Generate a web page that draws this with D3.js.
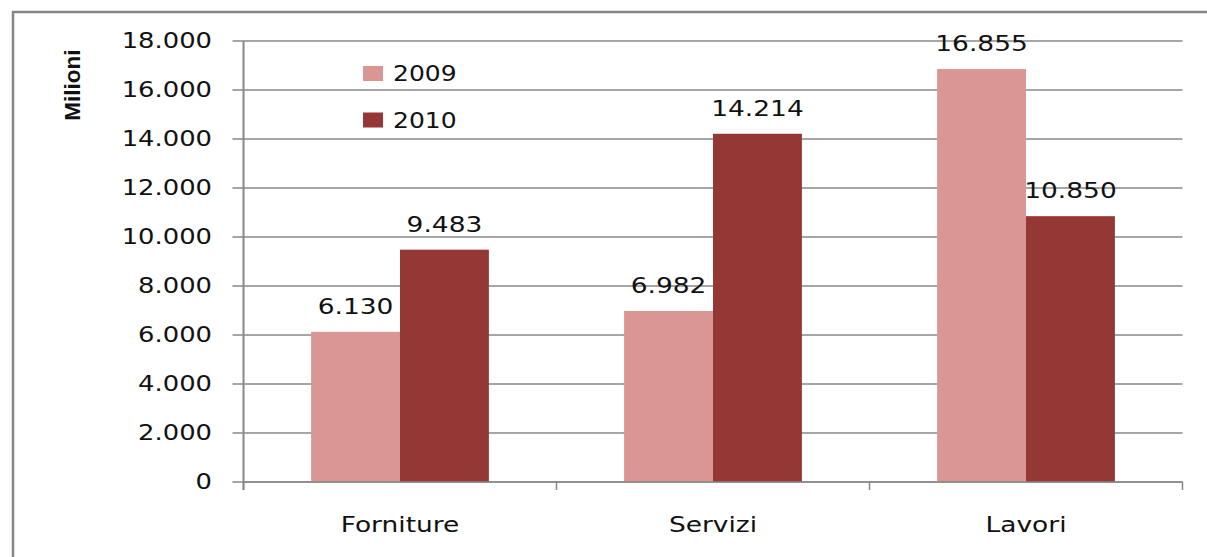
<!DOCTYPE html>
<html lang="it">
<head>
<meta charset="UTF-8">
<title>Milioni per categoria 2009-2010</title>
<script src="https://cdn.jsdelivr.net/npm/d3@7/dist/d3.min.js"></script>
<style>
  html, body { margin: 0; background: #fff; overflow: hidden; }
  svg { display: block; }
  svg text { font-family: "DejaVu Sans", Verdana, sans-serif; fill: #111; }
</style>
</head>
<body>
<script>
// data
var categories = ["Forniture", "Servizi", "Lavori"];
var years = ["2009", "2010"];
var values2009 = [6130, 6982, 16855];
var values2010 = [9483, 14214, 10850];
var yTicks = [0, 2000, 4000, 6000, 8000, 10000, 12000, 14000, 16000, 18000];
var colors = ["#D99694", "#953735"];

var W = 1207, H = 557;
var pLeft = 243.5, pRight = 1182.5, pTop = 41, pBottom = 482;
var sx = 1.26; // text is drawn wide in the original

var svg = d3.select("body").append("svg").attr("width", W).attr("height", H);

// outer frame: only top and left edges are inside the picture
svg.append("path").attr("d", "M13," + H + "V12H" + W)
  .attr("fill", "none").attr("stroke", "#868686").attr("stroke-width", 2.5);

var y = d3.scaleLinear().domain([0, 18000]).range([pBottom, pTop]);
var x0 = d3.scaleBand().domain(categories).range([pLeft, pRight]);
var gap = x0.bandwidth() * 0.216;
var x1 = d3.scaleBand().domain(years).range([gap, x0.bandwidth() - gap]);

var fmt = function(v) { return d3.format(",")(v).replace(/,/g, "."); };

// gridlines + y ticks
svg.append("g").selectAll("line").data(yTicks).enter().append("line")
  .attr("x1", pLeft - 11).attr("x2", pRight)
  .attr("y1", function(d) { return y(d); }).attr("y2", function(d) { return y(d); })
  .attr("stroke", "#888").attr("stroke-width", 1.5);

svg.append("g").selectAll("text").data(yTicks).enter().append("text")
  .attr("transform", function(d) { return "translate(212," + (y(d) + 6.5) + ") scale(" + sx + ",1)"; })
  .attr("text-anchor", "end").attr("font-size", 20.5)
  .text(fmt);

// bars
var series = [values2009, values2010];
series.forEach(function(vals, si) {
  var g = svg.append("g");
  g.selectAll("rect").data(vals).enter().append("rect")
    .attr("x", function(d, i) { return x0(categories[i]) + x1(years[si]); })
    .attr("width", x1.bandwidth())
    .attr("y", function(d) { return y(d); })
    .attr("height", function(d) { return pBottom - y(d); })
    .attr("fill", colors[si]);
  g.selectAll("text").data(vals).enter().append("text")
    .attr("transform", function(d, i) {
      var cx = x0(categories[i]) + x1(years[si]) + x1.bandwidth() / 2;
      return "translate(" + cx + "," + (y(d) - 18) + ") scale(" + sx + ",1)";
    })
    .attr("text-anchor", "middle").attr("font-size", 21)
    .text(fmt);
});

// axes lines
svg.append("line").attr("x1", pLeft).attr("x2", pLeft).attr("y1", pTop).attr("y2", pBottom + 8)
  .attr("stroke", "#888").attr("stroke-width", 2);
svg.append("line").attr("x1", pLeft).attr("x2", pRight).attr("y1", pBottom).attr("y2", pBottom)
  .attr("stroke", "#888").attr("stroke-width", 1.5);
var xTickPos = categories.map(function(c) { return x0(c); }).concat([pRight]);
svg.append("g").selectAll("line").data(xTickPos).enter().append("line")
  .attr("x1", function(d) { return d; }).attr("x2", function(d) { return d; })
  .attr("y1", pBottom).attr("y2", pBottom + 8)
  .attr("stroke", "#888").attr("stroke-width", 1.5);

// category labels
svg.append("g").selectAll("text").data(categories).enter().append("text")
  .attr("transform", function(d) { return "translate(" + (x0(d) + x0.bandwidth() / 2) + ",532) scale(" + sx + ",1)"; })
  .attr("text-anchor", "middle").attr("font-size", 21)
  .text(function(d) { return d; });

// y title
svg.append("text")
  .attr("transform", "translate(80,85) rotate(-90)")
  .attr("text-anchor", "middle").attr("font-size", 22.5).attr("font-weight", "bold")
  .style("font-family", "'Liberation Sans', Arial, sans-serif")
  .text("Milioni");

// legend
var leg = svg.append("g").selectAll("g").data(years).enter().append("g")
  .attr("transform", function(d, i) { return "translate(363," + (66 + i * 46.5) + ")"; });
leg.append("rect").attr("width", 20).attr("height", 15)
  .attr("fill", function(d, i) { return colors[i]; });
leg.append("text").attr("transform", "translate(30,15) scale(1.22,1)")
  .attr("font-size", 20.5).text(function(d) { return d; });
</script>
</body>
</html>
